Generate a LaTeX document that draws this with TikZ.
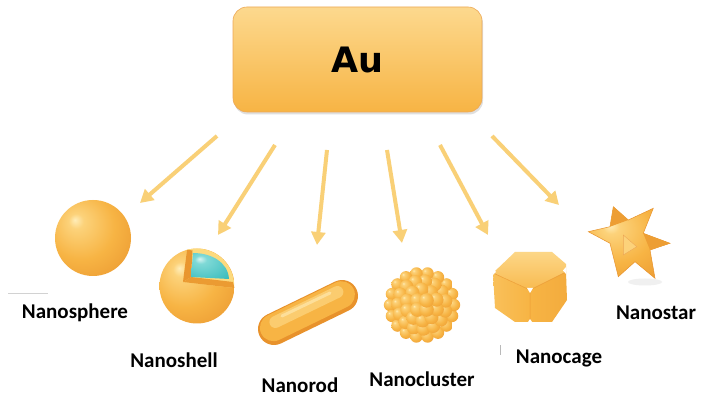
\documentclass[tikz,border=0pt]{standalone}
\usepackage{tikz}
\usepackage{xcolor}
\usepackage{fontspec}
\usetikzlibrary{arrows.meta,shadows}
\newfontfamily\labelfont{Carlito}
\newfontfamily\aufont{DejaVu Sans}
\definecolor{goldhi}{HTML}{FFEDB8}
\definecolor{goldlight}{HTML}{FCD27A}
\definecolor{goldmid}{HTML}{F7B444}
\definecolor{golddark}{HTML}{E8922C}
\definecolor{arrowgold}{HTML}{F9D077}
\definecolor{cyanhi}{HTML}{D8F4F2}
\definecolor{cyanmid}{HTML}{7FD9D6}
\definecolor{cyandark}{HTML}{2FB8BA}
\definecolor{shellcut}{HTML}{FCDA7E}
\definecolor{shellside}{HTML}{E9962F}
\pgfdeclareradialshading{goldball}{\pgfpoint{-12bp}{12bp}}{color(0bp)=(goldhi); color(5bp)=(goldlight); color(22bp)=(goldmid); color(44bp)=(golddark); color(64bp)=(golddark)}
\pgfdeclareradialshading{cyanball}{\pgfpoint{-14bp}{14bp}}{color(0bp)=(cyanhi); color(8bp)=(cyanmid); color(45bp)=(cyandark); color(64bp)=(cyandark)}

\begin{document}
\begin{tikzpicture}[x=1pt,y=1pt,
        goldbox/.style={rounded corners=14pt, top color=goldlight!85!white, bottom color=goldmid, draw=golddark!80, line width=0.6pt, drop shadow={shadow xshift=1pt, shadow yshift=-2.5pt, opacity=0.25}, minimum width=249pt, minimum height=105pt, font=\aufont\bfseries\fontsize{35}{38}\selectfont},
        goldarrow/.style={line width=4pt, draw=arrowgold, -{Triangle[width=14pt,length=13pt]}},
        shapelabel/.style={font=\labelfont\bfseries\fontsize{21}{25}\selectfont, inner sep=0pt}]
    \fill[white] (0,0) rectangle (705,401);
    \useasboundingbox (0,0) rectangle (705,401);

    \node[goldbox] (au) at (357.5,341.5) {Au};

    \foreach \i/\sx/\sy/\ex/\ey in {1/217/265/140/198, 2/275/256/218/166, 3/327/251/317/156, 4/387/251/402/158, 5/440/256/488/166, 6/492/265/559/196}{
        \coordinate (s\i) at (\sx,\sy);
        \coordinate (e\i) at (\ex,\ey);
        \draw[goldarrow] (s\i) -- (e\i);
    }

    \coordinate (sphere) at (93,163);
    \shade[shading=goldball] (sphere) circle (38);
    \draw[gray!35, line width=0.6pt] (8,108) -- (48,108);
    \node[shapelabel] (lsphere) at (75,88) {Nanosphere};

    \begin{scope}[shift={(197,115)}]
        \shade[shading=goldball] (0,0) circle (37.5);
        \fill[shellcut] (-14,4) -- (-10,36.2) arc[start angle=105, end angle=-3, radius=37.5] -- cycle;
        \fill[shellside] (-14,4) -- (-10,36.2) -- (-4.5,35.5) -- (-6,9) -- cycle;
        \fill[shellside!85!goldmid] (-14,4) -- (-6,9) -- (36,4) -- (37.4,-2) -- cycle;
        \shade[shading=cyanball] (-6,9) -- (-4,33) .. controls (14,33) and (31,24) .. (32,7) -- cycle;
    \end{scope}
    \node[shapelabel] (lshell) at (174,41) {Nanoshell};

    \begin{scope}[shift={(274,72)}]
        \draw[line width=32pt, line cap=round, golddark] (0,0) -- (68,33);
        \draw[line width=27pt, line cap=round, goldmid] (-0.6,1.3) -- (67.4,34.3);
        \draw[line width=12pt, line cap=round, goldlight!80!goldmid] (1.4,7) -- (63.4,37);
        \draw[line width=3pt, line cap=round, goldhi, opacity=0.6] (8,13) -- (56,36);
    \end{scope}
    \node[shapelabel] (lrod) at (300,16) {Nanorod};

    \begin{scope}[shift={(422,96)}]
        \foreach \rr/\nn/\br/\off in {32/18/6.2/0, 24/15/6.8/10, 15.5/10/7/20, 6.5/4/7.2/45}{
            \foreach \k in {1,...,\nn}{
                \shade[shading=goldball] ({\off+360*\k/\nn}:\rr) circle (\br);
            }
        }
    \end{scope}
    \node[shapelabel] (lcluster) at (422,22) {Nanocluster};

    \begin{scope}[shift={(530,114)}]
        \shade[top color=goldlight!90!white, bottom color=goldmid!80!goldlight] (-37,14) -- (-15,35) -- (22,35) -- (36,23) -- (36,15) -- (0,-3) -- cycle;
        \shade[left color=goldmid!60!goldlight, right color=goldmid] (-37,14) -- (0,-3) -- (0,-35) -- (-15,-35) -- (-35,-21) -- cycle;
        \shade[left color=goldmid, right color=goldmid!75!golddark] (0,-3) -- (36,15) -- (37,-13) -- (22,-35) -- (0,-35) -- cycle;
        \draw[golddark!70!goldmid, line width=0.5pt] (-37,14) -- (0,-3) -- (36,15) (0,-3) -- (0,-35);
        \fill[white] (-3,-1) -- (3,-1) -- (0,-6) -- cycle;
        \fill[white] (-37,18) -- (-34,15) -- (-37,12) -- cycle;
        \fill[white] (36,20) -- (33,16.5) -- (36,13) -- cycle;
        \fill[white] (-2,-35) -- (2,-35) -- (0,-32) -- cycle;
    \end{scope}
    \node[shapelabel] (lcage) at (559,43) {Nanocage};

    \begin{scope}[shift={(630,158)}]
        \fill[black!6] (15,-39) ellipse (17 and 3.5);
        \shade[shading=goldball, draw=golddark, line width=0.5pt] (-41.7,11.3) -- (-20,16.3) -- (-16.7,36.3) -- (-1.7,23) -- (23.3,34.7) -- (13.3,9.7) -- (40,-0.3) -- (20,-7) -- (25,-35.3) -- (5,-18.7) -- (-11.7,-33.7) -- (-20,-0.3) -- cycle;
        \fill[golddark!65!goldmid] (-16.7,36.3) -- (-1.7,23) -- (-20,16.3) -- cycle;
        \fill[golddark!65!goldmid] (40,-0.3) -- (20,-7) -- (13.3,9.7) -- cycle;
        \fill[goldlight] (-6.7,8) -- (-6.7,-12) -- (6.7,-3.7) -- cycle;
        \draw[golddark!80, line width=0.4pt] (-6.7,8) -- (-6.7,-12) -- (6.7,-3.7) -- cycle;
    \end{scope}
    \node[shapelabel] (lstar) at (656,88) {Nanostar};

    \draw[gray!55, line width=0.8pt] (500,46) -- (500,56);
\end{tikzpicture}
\end{document}
